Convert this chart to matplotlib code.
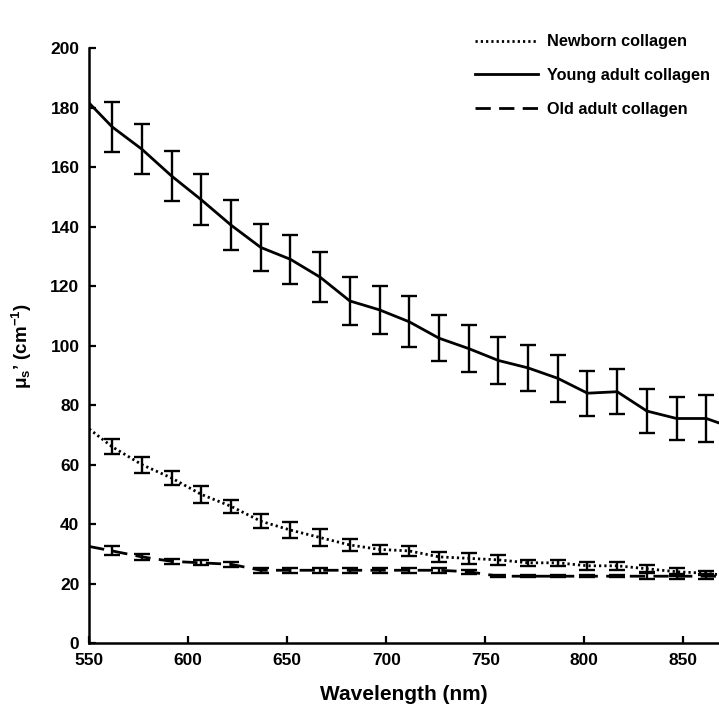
import numpy as np
import matplotlib
matplotlib.use("Agg")
import matplotlib.pyplot as plt

plt.rcParams['font.family'] = ['Liberation Sans', 'DejaVu Sans']
plt.rcParams['font.weight'] = 'bold'
plt.rcParams['mathtext.fontset'] = 'custom'
plt.rcParams['mathtext.rm'] = 'Liberation Sans:bold'
plt.rcParams['mathtext.it'] = 'Liberation Sans:bold'
plt.rcParams['mathtext.bf'] = 'Liberation Sans:bold'

# wavelengths of the measured points (nm), plus the line ends
wl_pts = [561.6, 576.6, 591.6, 606.6, 621.6, 636.6, 651.6, 666.6, 681.6, 696.6, 711.6,
          726.6, 741.6, 756.6, 771.6, 786.6, 801.6, 816.6, 831.6, 846.6, 861.6]
wl_start, wl_end = 550, 868

newborn = [66, 60, 55.5, 50, 46, 41, 38, 35.5, 33, 31.5, 31,
           29, 28.5, 28, 27, 27, 26, 26, 25, 24, 23.5]
newborn_err = [2.5, 2.7, 2.5, 2.8, 2.2, 2.4, 2.7, 2.9, 2.0, 1.6, 1.7,
               1.8, 1.8, 1.7, 1.1, 1.1, 1.3, 1.3, 1.2, 1.3, 0.6]
newborn_ends = [72, 23]

young = [173.5, 166, 157, 149, 140.5, 133, 129, 123, 115, 112, 108,
         102.5, 99, 95, 92.5, 89, 84, 84.5, 78, 75.5, 75.5]
young_err = [8.3, 8.5, 8.3, 8.5, 8.5, 8.0, 8.3, 8.4, 8.2, 8.0, 8.5,
             7.8, 8.0, 8.0, 7.6, 7.8, 7.6, 7.5, 7.5, 7.3, 7.8]
young_ends = [181.5, 74]

old = [31, 29, 27.5, 27, 26.5, 24.5, 24.5, 24.5, 24.5, 24.5, 24.5,
       24.5, 24, 22.5, 22.5, 22.5, 22.5, 22.5, 22.5, 22.5, 22.5]
old_err = [1.5, 1.0, 0.9, 0.9, 0.8, 0.9, 0.8, 0.8, 0.8, 0.8, 0.8,
           0.8, 0.7, 0.3, 0.3, 0.3, 0.3, 0.3, 1.0, 0.8, 0.8]
old_ends = [32.5, 22.5]

fig = plt.figure(figsize=(7.19, 7.06), dpi=100)
ax = fig.add_axes([0.124, 0.089, 0.876, 0.843])

x_line = [wl_start] + wl_pts + [wl_end]
series = [
    ('Newborn collagen', newborn, newborn_err, newborn_ends, (0, (0.8, 1.1))),
    ('Young adult collagen', young, young_err, young_ends, '-'),
    ('Old adult collagen', old, old_err, old_ends, (0, (5.5, 3))),
]
for name, vals, err, ends, ls in series:
    y_line = [ends[0]] + vals + [ends[1]]
    ax.plot(x_line, y_line, color='black', lw=2, linestyle=ls, label=name)
    ax.errorbar(wl_pts, vals, yerr=err, fmt='none', ecolor='black',
                elinewidth=1.7, capsize=6, capthick=1.7)

ax.set_xlim(550, 868)
ax.set_ylim(0, 200)
ax.set_xticks(np.arange(550, 851, 50))
ax.set_yticks(np.arange(0, 201, 20))
ax.tick_params(direction='in', length=5, width=1.6, labelsize=12.5, pad=7)
for lab in ax.get_xticklabels() + ax.get_yticklabels():
    lab.set_fontweight('bold')
for s in ['top', 'right']:
    ax.spines[s].set_visible(False)
for s in ['left', 'bottom']:
    ax.spines[s].set_linewidth(1.8)

ax.set_xlabel('Wavelength (nm)', fontsize=15, fontweight='bold', labelpad=12)
ax.set_ylabel(r"$\mu_s$’ (cm$^{-1}$)", fontsize=13.5, fontweight='bold', labelpad=12)

leg = ax.legend(loc='upper left', bbox_to_anchor=(0.602, 1.034), borderaxespad=0,
                frameon=False, fontsize=11.7, handlelength=3.9,
                labelspacing=1.15, handletextpad=0.55)
for t in leg.get_texts():
    t.set_fontweight('bold')

fig.savefig('out.png', dpi=100)
